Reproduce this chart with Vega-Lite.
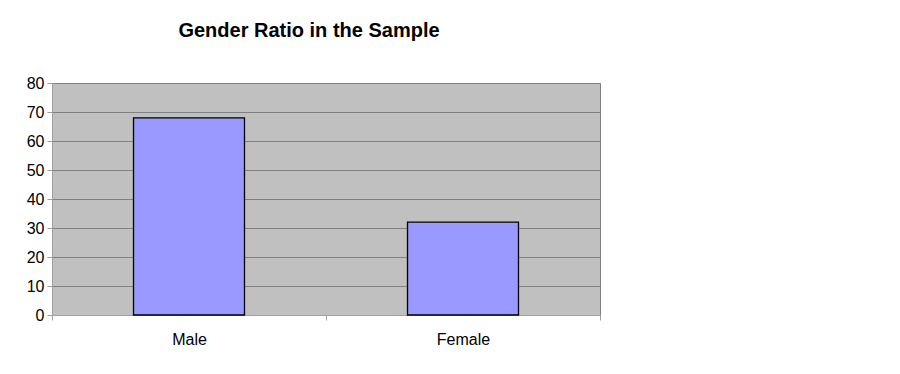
{
  "$schema": "https://vega.github.io/schema/vega-lite/v6.json",
  "width": 548,
  "height": 232,
  "autosize": {"type": "none"},
  "padding": {"left": 52, "top": 83, "right": 300, "bottom": 59},
  "background": "white",
  "title": {
    "text": "Gender Ratio in the Sample",
    "font": "Liberation Sans",
    "fontSize": 20,
    "fontWeight": "bold",
    "color": "black",
    "anchor": "middle",
    "dx": -17,
    "offset": 34
  },
  "data": {
    "values": [
      {"gender": "Male", "value": 68},
      {"gender": "Female", "value": 32}
    ]
  },
  "mark": {"type": "bar", "color": "#9999FF", "stroke": "black", "strokeWidth": 1.3, "width": {"band": 0.405}},
  "encoding": {
    "x": {
      "field": "gender",
      "type": "nominal",
      "sort": null,
      "scale": {"paddingInner": 0, "paddingOuter": 0},
      "axis": {
        "title": null,
        "labelAngle": 0,
        "tickBand": "extent",
        "labelFont": "Liberation Sans",
        "labelFontSize": 16,
        "labelColor": "black",
        "labelPadding": 11,
        "tickSize": 5,
        "tickColor": "#A0A0A0",
        "domainColor": "#A0A0A0",
        "grid": false
      }
    },
    "y": {
      "field": "value",
      "type": "quantitative",
      "scale": {"domain": [0, 80], "nice": false},
      "axis": {
        "title": null,
        "values": [0, 10, 20, 30, 40, 50, 60, 70, 80],
        "labelFont": "Liberation Sans",
        "labelFontSize": 16,
        "labelColor": "black",
        "labelPadding": 3,
        "tickSize": 5,
        "tickColor": "#A0A0A0",
        "domainColor": "#A0A0A0",
        "grid": true,
        "gridColor": "#808080",
        "gridOpacity": 1,
        "gridWidth": 1
      }
    }
  },
  "config": {
    "view": {"fill": "#C0C0C0", "stroke": "#808080", "strokeWidth": 1}
  }
}
